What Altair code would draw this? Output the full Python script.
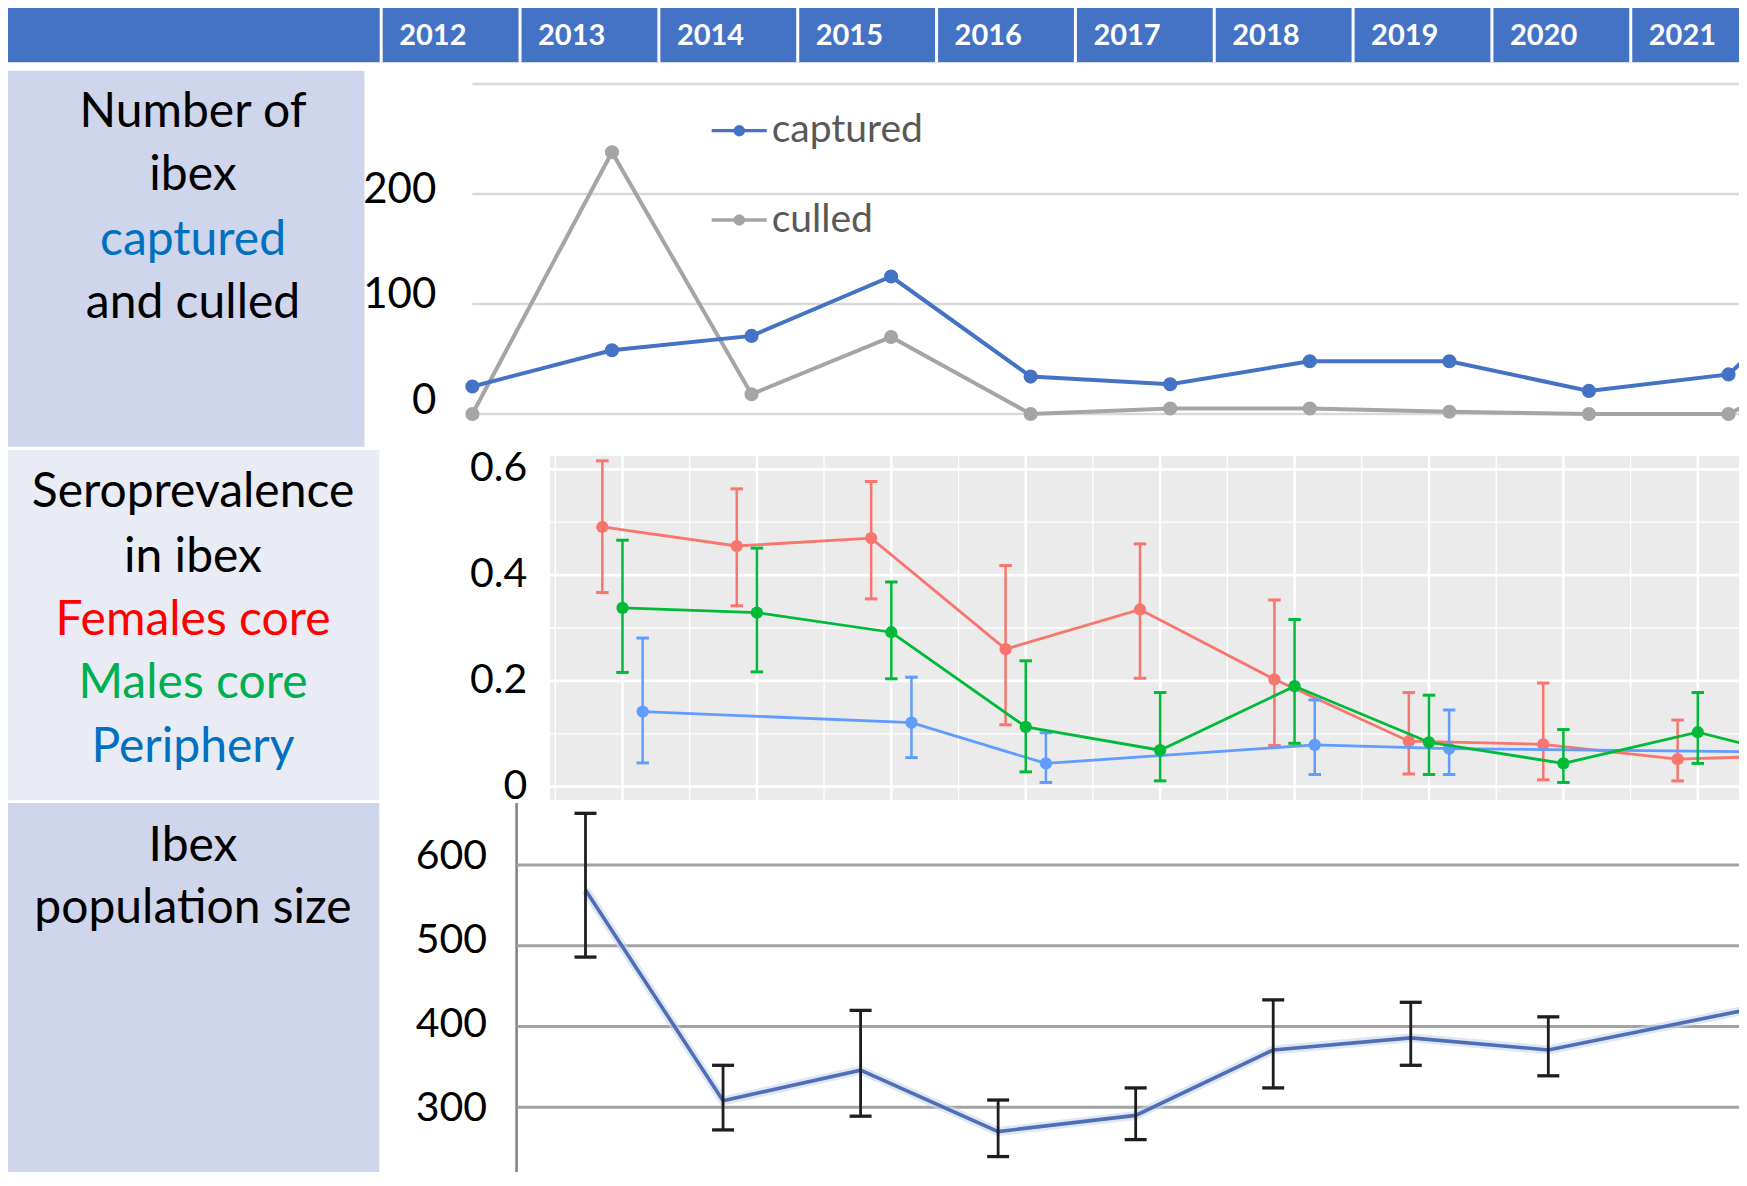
import altair as alt
import pandas as pd

# ---------------- data ----------------
count_years = [2012, 2013, 2014, 2015, 2016, 2017, 2018, 2019, 2020, 2021, 2022]
captured = [25, 58, 71, 125, 34, 27, 48, 48, 21, 36, 153]
culled = [0, 238, 18, 70, 0, 5, 5, 2, 0, 0, 63]

sero_years = [2013, 2014, 2015, 2016, 2017, 2018, 2019, 2020, 2021, 2022]
fem = [0.491, 0.455, 0.470, 0.260, 0.335, 0.203, 0.086, 0.080, 0.052, 0.060]
fem_lo = [0.367, 0.342, 0.355, 0.117, 0.205, 0.078, 0.024, 0.013, 0.011, None]
fem_hi = [0.616, 0.563, 0.577, 0.418, 0.459, 0.353, 0.178, 0.196, 0.126, None]
male = [0.338, 0.329, 0.292, 0.113, 0.069, 0.190, 0.084, 0.044, 0.103, 0.039]
male_lo = [0.216, 0.217, 0.204, 0.028, 0.011, 0.082, 0.023, 0.008, 0.044, None]
male_hi = [0.466, 0.451, 0.387, 0.238, 0.178, 0.316, 0.173, 0.108, 0.178, None]
peri_years = [2013, 2015, 2016, 2018, 2019, 2022]
peri = [0.142, 0.121, 0.044, 0.079, 0.072, 0.064]
peri_lo = [0.045, 0.055, 0.008, 0.023, 0.023, None]
peri_hi = [0.281, 0.207, 0.102, 0.164, 0.145, None]

pop_years = [2013, 2014, 2015, 2016, 2017, 2018, 2019, 2020, 2022]
pop = [569, 308, 346, 270, 290, 371, 386, 371, 440]
pop_lo = [486, 272, 289, 239, 260, 324, 352, 339, None]
pop_hi = [664, 352, 420, 309, 324, 433, 430, 412, None]

header_years = [2012, 2013, 2014, 2015, 2016, 2017, 2018, 2019, 2020, 2021]
count_ticks = [0, 100, 200]
count_grid = [0, 100, 200, 300]
sero_ticks = [0, 0.2, 0.4, 0.6]
sero_tick_labels = ["0", "0.2", "0.4", "0.6"]
sero_minor = [0.1, 0.3, 0.5]
sero_vgrid = [2013, 2014, 2015, 2016, 2017, 2018, 2019, 2020, 2021]
sero_vminor = [2012.5, 2013.5, 2014.5, 2015.5, 2016.5, 2017.5, 2018.5, 2019.5, 2020.5, 2021.5]
pop_ticks = [300, 400, 500, 600]

# ---------------- layout ----------------
W, H = 1731, 1164
FONT = "Lato"
one = pd.DataFrame({"k": [0]})


def S(domain, rng):
    return alt.Scale(domain=domain, range=rng, nice=False, zero=False, padding=0)


def box(x0, x1, y0, y1, color):
    return alt.Chart(one).mark_rect(color=color).encode(
        x=alt.value(x0), x2=alt.value(x1), y=alt.value(y0), y2=alt.value(y1))


def txt(s, x, y, color="black", size=48, align="center", baseline="alphabetic", weight="normal"):
    return alt.Chart(one).mark_text(
        text=s, font=FONT, fontSize=size, color=color, align=align,
        baseline=baseline, fontWeight=weight).encode(x=alt.value(x), y=alt.value(y))


# scales
sc_hx = S([2012, 2022], [373.2, 1761.6])
sc1x = S([2012, 2021], [464.4, 1720.5])
sc1y = S([0, 300], [406, 76])
sc1ly = S([0, 200], [392.5, 182])
sc2x = S([2013, 2021], [614.5, 1689.8])
sc2y = S([0, 0.6], [778.7, 461.3])
sc3x = S([2013, 2020], [577.5, 1540.3])
sc3y = S([300, 600], [1099.3, 857])
sc3ly = S([300, 600], [1101, 848.7])

# ---------------- backgrounds & label boxes ----------------
bgs = [
    box(0, W, 0, 54.3, "#4472C4"),
    box(0, 356.5, 62.7, 438.7, "#CFD5EA"),
    box(0, 371.3, 442, 792, "#E9EBF5"),
    box(0, 371.3, 795, H, "#CFD5EA"),
    box(542, W, 448, 792, "#EBEBEB"),
]

labels = [
    txt("Number of", 185, 118.7),
    txt("ibex", 185, 182),
    txt("captured", 185, 247, color="#0070C0"),
    txt("and culled", 185, 310.3),
    txt("Seroprevalence", 185, 498.7),
    txt("in ibex", 185, 563.7),
    txt("Females core", 185, 627, color="#FF0000"),
    txt("Males core", 185, 690.3, color="#00B050"),
    txt("Periphery", 185, 753.7, color="#0070C0"),
    txt("Ibex", 185, 853),
    txt("population size", 185, 915.3),
]

# ---------------- header ----------------
hdr = pd.DataFrame({"year": header_years})
header = alt.layer(
    alt.Chart(hdr).mark_rule(color="white", strokeWidth=3).encode(
        x=alt.X("year:Q", scale=sc_hx, axis=None), y=alt.value(0), y2=alt.value(54.3)),
    alt.Chart(hdr).mark_text(align="left", baseline="middle", dx=18, font=FONT,
                             fontSize=29, fontWeight="bold", color="white").encode(
        x=alt.X("year:Q", scale=sc_hx, axis=None), y=alt.value(28),
        text=alt.Text("year:Q", format="d")),
)

# ---------------- panel 1: captured / culled ----------------
grid1 = alt.Chart(pd.DataFrame({"v": count_grid})).mark_rule(
    color="#D9D9D9", strokeWidth=2.5).encode(
    y=alt.Y("v:Q", scale=sc1y, axis=None), x=alt.value(464.4), x2=alt.value(W))

p1_layers = [grid1]
for name, vals, col in [("culled", culled, "#A5A5A5"), ("captured", captured, "#4472C4")]:
    d = pd.DataFrame({"year": count_years, "value": vals})
    enc = dict(x=alt.X("year:Q", scale=sc1x, axis=None),
               y=alt.Y("value:Q", scale=sc1y, axis=None))
    p1_layers.append(alt.Chart(d).mark_line(color=col, strokeWidth=4).encode(**enc))
    p1_layers.append(alt.Chart(d).transform_filter("datum.year <= 2021").mark_point(
        filled=True, color=col, size=200, opacity=1).encode(**enc))
panel1 = alt.layer(*p1_layers)

legend1 = []
for name, col, yc, yb in [("captured", "#4472C4", 122.7, 133.7), ("culled", "#A5A5A5", 212, 223.7)]:
    legend1.append(alt.Chart(one).mark_rule(color=col, strokeWidth=3.3).encode(
        x=alt.value(703.7), x2=alt.value(758.7), y=alt.value(yc)))
    legend1.append(alt.Chart(one).mark_point(filled=True, color=col, size=130, opacity=1).encode(
        x=alt.value(731.3), y=alt.value(yc)))
    legend1.append(txt(name, 763.7, yb, color="#595959", size=39, align="left"))

ticks1 = alt.Chart(pd.DataFrame({"v": count_ticks})).mark_text(
    align="right", baseline="middle", font=FONT, fontSize=42, color="black").encode(
    y=alt.Y("v:Q", scale=sc1ly, axis=None), x=alt.value(428.3),
    text=alt.Text("v:Q", format="d"))

# ---------------- panel 2: seroprevalence ----------------
p2_layers = [
    alt.Chart(pd.DataFrame({"v": sero_minor})).mark_rule(color="white", strokeWidth=1.3).encode(
        y=alt.Y("v:Q", scale=sc2y, axis=None), x=alt.value(542), x2=alt.value(W)),
    alt.Chart(pd.DataFrame({"yr": sero_vminor})).mark_rule(color="white", strokeWidth=1.3).encode(
        x=alt.X("yr:Q", scale=sc2x, axis=None), y=alt.value(448), y2=alt.value(792)),
    alt.Chart(pd.DataFrame({"v": sero_ticks})).mark_rule(color="white", strokeWidth=2.7).encode(
        y=alt.Y("v:Q", scale=sc2y, axis=None), x=alt.value(542), x2=alt.value(W)),
    alt.Chart(pd.DataFrame({"yr": sero_vgrid})).mark_rule(color="white", strokeWidth=2.4).encode(
        x=alt.X("yr:Q", scale=sc2x, axis=None), y=alt.value(448), y2=alt.value(792)),
]
series2 = [
    (sero_years, fem, fem_lo, fem_hi, -0.15, "#F8766D"),
    (peri_years, peri, peri_lo, peri_hi, 0.15, "#619CFF"),
    (sero_years, male, male_lo, male_hi, 0.0, "#00BA38"),
]
for yrs, v, lo, hi, off, col in series2:
    d = pd.DataFrame({"x": [y + off for y in yrs], "v": v, "lo": lo, "hi": hi})
    X = alt.X("x:Q", scale=sc2x, axis=None)
    p2_layers.append(alt.Chart(d).mark_line(color=col, strokeWidth=2.8).encode(
        x=X, y=alt.Y("v:Q", scale=sc2y, axis=None)))
    de = d.dropna()
    p2_layers.append(alt.Chart(de).mark_rule(color=col, strokeWidth=2.5).encode(
        x=X, y=alt.Y("lo:Q", scale=sc2y, axis=None), y2="hi:Q"))
    for f in ["lo", "hi"]:
        p2_layers.append(alt.Chart(de).mark_tick(
            color=col, orient="horizontal", size=12.5, thickness=3, opacity=1).encode(
            x=X, y=alt.Y(f + ":Q", scale=sc2y, axis=None)))
    p2_layers.append(alt.Chart(de).mark_point(filled=True, color=col, size=150, opacity=1).encode(
        x=X, y=alt.Y("v:Q", scale=sc2y, axis=None)))
p2_layers.append(alt.Chart(pd.DataFrame({"v": sero_ticks, "lab": sero_tick_labels})).mark_text(
    align="right", baseline="middle", font=FONT, fontSize=41, color="black").encode(
    y=alt.Y("v:Q", scale=sc2y, axis=None), x=alt.value(519.3), text="lab:N"))
panel2 = alt.layer(*p2_layers)

# ---------------- panel 3: population size ----------------
d3 = pd.DataFrame({"year": pop_years, "v": pop, "lo": pop_lo, "hi": pop_hi})
X3 = alt.X("year:Q", scale=sc3x, axis=None)
d3e = d3.dropna()
p3_layers = [
    alt.Chart(pd.DataFrame({"v": pop_ticks})).mark_rule(color="#A3A3A3", strokeWidth=3).encode(
        y=alt.Y("v:Q", scale=sc3y, axis=None), x=alt.value(508.6), x2=alt.value(W)),
    alt.Chart(d3).mark_line(color="#C9D5EC", strokeWidth=9, opacity=0.6).encode(
        x=X3, y=alt.Y("v:Q", scale=sc3y, axis=None)),
    alt.Chart(d3).mark_line(color="#4E6FB5", strokeWidth=3.6).encode(
        x=X3, y=alt.Y("v:Q", scale=sc3y, axis=None)),
    alt.Chart(d3e).mark_rule(color="#1E1E1E", strokeWidth=2.8).encode(
        x=X3, y=alt.Y("lo:Q", scale=sc3y, axis=None), y2="hi:Q"),
]
for f in ["lo", "hi"]:
    p3_layers.append(alt.Chart(d3e).mark_tick(
        color="#1E1E1E", orient="horizontal", size=22, thickness=3.3, opacity=1).encode(
        x=X3, y=alt.Y(f + ":Q", scale=sc3y, axis=None)))
panel3 = alt.layer(*p3_layers)

axis3 = alt.Chart(one).mark_rule(color="#808080", strokeWidth=2.5).encode(
    x=alt.value(508.6), y=alt.value(795), y2=alt.value(H))
ticks3 = alt.Chart(pd.DataFrame({"v": pop_ticks})).mark_text(
    align="right", baseline="middle", font=FONT, fontSize=41, color="black").encode(
    y=alt.Y("v:Q", scale=sc3ly, axis=None), x=alt.value(479), text=alt.Text("v:Q", format="d"))

chart = alt.layer(
    *bgs, *labels, header, panel1, *legend1, ticks1, panel2, axis3, panel3, ticks3
).resolve_scale(
    x="independent", y="independent"
).properties(
    width=W, height=H, padding=0, autosize=alt.AutoSizeParams(type="none")
).configure_view(strokeWidth=0)

chart.save("out.html", embed_options={"renderer": "svg", "actions": False})
